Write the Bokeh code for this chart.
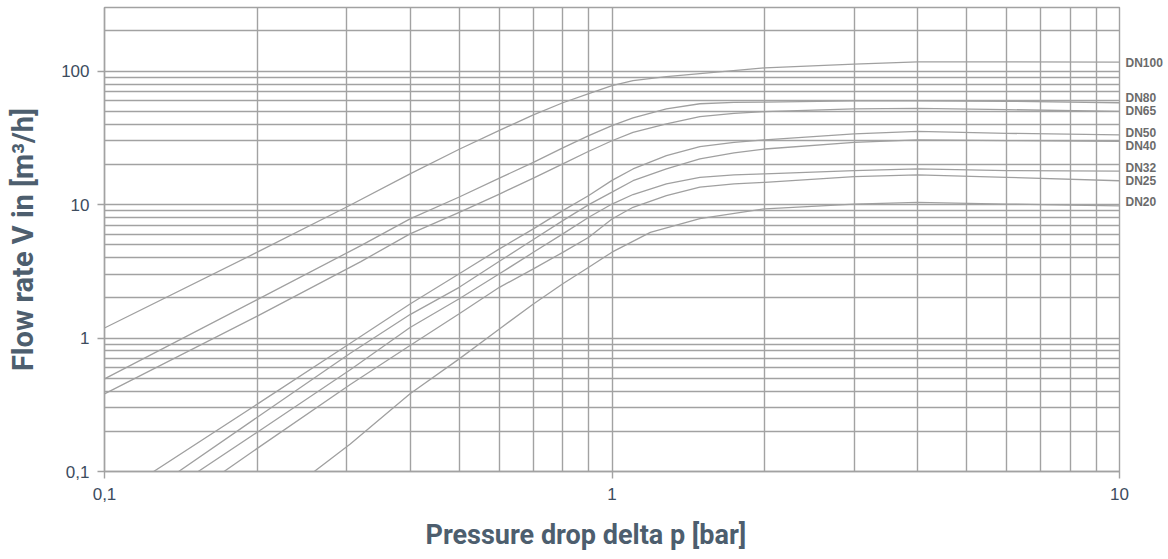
from bokeh.plotting import figure
from bokeh.models import Range1d, FixedTicker, CustomJSTickFormatter, LogAxis, Title
from bokeh.embed import file_html
from bokeh.resources import INLINE

# ---- data (pressure drop [bar] -> flow rate [m3/h]) ----
names = ["DN100", "DN80", "DN65", "DN50", "DN40", "DN32", "DN25", "DN20"]

dp_dn100 = [0.1, 0.2, 0.3, 0.4, 0.5, 0.6, 0.7, 0.8, 0.9, 1.0, 1.1, 1.28, 1.49, 2, 3, 4, 6, 10]
q_dn100 = [1.19, 4.4, 9.6, 17.0, 26.0, 36.0, 47.0, 58.0, 68.0, 78.0, 85.0, 91.0, 96.0, 106.0, 113.0, 117.5, 117.5, 117.0]

dp_dn80 = [0.1, 0.2, 0.32, 0.4, 0.5, 0.6, 0.7, 0.8, 0.9, 1.0, 1.1, 1.28, 1.49, 1.74, 2, 3, 4, 6, 10]
q_dn80 = [0.494, 1.94, 4.93, 7.82, 11.4, 15.8, 20.7, 26.6, 32.9, 39.1, 44.6, 52.1, 57.0, 58.3, 58.7, 59.8, 60.0, 59.5, 58.0]

dp_dn65 = [0.1, 0.2, 0.32, 0.4, 0.5, 0.6, 0.7, 0.8, 0.9, 1.0, 1.1, 1.28, 1.49, 1.74, 2, 3, 4, 6, 10]
q_dn65 = [0.382, 1.46, 3.74, 6.04, 8.75, 12.0, 15.8, 20.2, 25.1, 30.1, 34.8, 40.2, 45.6, 48.3, 49.8, 52.1, 52.6, 51.5, 50.0]

dp_dn50 = [0.125, 0.2, 0.305, 0.4, 0.5, 0.6, 0.7, 0.8, 0.9, 1.0, 1.1, 1.28, 1.49, 1.74, 2, 3, 4, 6, 10]
q_dn50 = [0.1, 0.32, 0.914, 1.8, 3.03, 4.66, 6.58, 9.02, 11.7, 15.2, 18.5, 23.3, 27.2, 29.3, 30.6, 33.9, 35.4, 34.2, 33.3]

dp_dn40 = [0.14, 0.2, 0.305, 0.4, 0.5, 0.6, 0.7, 0.8, 0.9, 1.0, 1.1, 1.28, 1.49, 1.74, 2, 3, 4, 6, 10]
q_dn40 = [0.1, 0.255, 0.77, 1.5, 2.40, 3.76, 5.47, 7.59, 10.0, 12.4, 15.1, 18.5, 22.0, 24.4, 26.1, 29.3, 30.6, 30.2, 29.8]

dp_dn32 = [0.153, 0.2, 0.305, 0.4, 0.5, 0.6, 0.7, 0.8, 0.9, 1.0, 1.1, 1.28, 1.49, 1.74, 2, 3, 4, 6, 10]
q_dn32 = [0.1, 0.197, 0.578, 1.2, 1.97, 3.03, 4.39, 6.04, 8.04, 10.1, 11.9, 14.3, 16.0, 16.7, 17.0, 18.0, 18.5, 18.0, 17.8]

dp_dn25 = [0.172, 0.2, 0.305, 0.4, 0.5, 0.6, 0.7, 0.8, 0.9, 1.0, 1.1, 1.28, 1.49, 1.74, 2, 3, 4, 6, 10]
q_dn25 = [0.1, 0.149, 0.449, 0.879, 1.52, 2.40, 3.30, 4.39, 5.69, 7.8, 9.55, 11.7, 13.5, 14.3, 14.7, 16.2, 16.7, 16.0, 15.1]

dp_dn20 = [0.259, 0.305, 0.4, 0.5, 0.6, 0.7, 0.8, 0.9, 1.0, 1.19, 1.49, 2, 3, 4, 6, 8, 10]
q_dn20 = [0.1, 0.161, 0.382, 0.698, 1.17, 1.80, 2.55, 3.39, 4.4, 6.2, 7.85, 9.3, 10.1, 10.4, 10.1, 9.9, 9.8]

label_q = [116.0, 63.0, 50.6, 34.6, 27.7, 18.9, 15.1, 10.4]

x_major = [0.1, 1, 10]
y_major = [0.1, 1, 10, 100]

series = [
    (dp_dn100, q_dn100), (dp_dn80, q_dn80), (dp_dn65, q_dn65), (dp_dn50, q_dn50),
    (dp_dn40, q_dn40), (dp_dn32, q_dn32), (dp_dn25, q_dn25), (dp_dn20, q_dn20),
]

GRID = "#a2a2a2"
CURVE = "#a0a0a0"
TICK_TXT = "#3d4c5e"
TITLE_TXT = "#4d5e6e"

p = figure(
    x_axis_type="log", y_axis_type="log",
    x_range=Range1d(0.1, 10), y_range=Range1d(0.1, 300),
    frame_width=1015, frame_height=464,
    min_border_left=104, min_border_right=48, min_border_top=7, min_border_bottom=80,
    output_backend="svg", toolbar_location=None,
)
p.background_fill_color = "white"
p.border_fill_color = "white"
p.outline_line_color = GRID
p.outline_line_width = 1.4

x_minor = [m * 10.0 ** e for e in (-1, 0) for m in range(2, 10)]
y_minor = [m * 10.0 ** e for e in (-1, 0, 1) for m in range(2, 10)] + [200, 300]
p.xaxis.ticker = FixedTicker(ticks=x_major, minor_ticks=x_minor)
p.yaxis.ticker = FixedTicker(ticks=y_major, minor_ticks=y_minor)

fmt = CustomJSTickFormatter(code="return tick < 1 ? String(tick).replace('.', ',') : String(tick);")
p.xaxis.formatter = fmt
p.yaxis.formatter = fmt

for g in (p.xgrid, p.ygrid):
    g.grid_line_color = GRID
    g.grid_line_width = 1.4
    g.minor_grid_line_color = GRID
    g.minor_grid_line_width = 1.4

p.axis.axis_line_color = GRID
p.axis.axis_line_width = 1.4
p.axis.major_tick_line_color = GRID
p.axis.major_tick_line_width = 1.4
p.axis.major_tick_out = 7
p.axis.major_tick_in = 0
p.axis.minor_tick_line_color = None
p.axis.major_label_text_font = "Liberation Sans"
p.axis.major_label_text_font_size = "17px"
p.axis.major_label_text_color = TICK_TXT
p.yaxis.major_label_standoff = 8
p.xaxis.major_label_standoff = 9

p.yaxis.axis_label = "Flow rate V in [m³/h]"
p.yaxis.axis_label_text_font = "Roboto"
p.yaxis.axis_label_text_font_style = "bold"
p.yaxis.axis_label_text_font_size = "29px"
p.yaxis.axis_label_text_color = TITLE_TXT
p.yaxis.axis_label_standoff = 18

for (xs, ys) in series:
    p.line(xs, ys, line_color=CURVE, line_width=1.3)

# series names shown at the right edge via a label-only axis
name_axis = LogAxis(
    ticker=FixedTicker(ticks=label_q, minor_ticks=[]),
    formatter=CustomJSTickFormatter(
        args=dict(vals=label_q, names=names),
        code="const i = vals.indexOf(tick); return i >= 0 ? names[i] : '';",
    ),
    axis_line_color=None, major_tick_line_color=None, minor_tick_line_color=None,
    major_tick_out=0, major_tick_in=0,
    major_label_standoff=6,
    major_label_text_font="Liberation Sans", major_label_text_font_style="bold",
    major_label_text_font_size="12px", major_label_text_color="#6b6b6b",
)
p.add_layout(name_axis, "right")

xt = Title(
    text="Pressure drop delta p [bar]", align="left", offset=321,
    text_font="Roboto", text_font_style="bold", text_font_size="27px",
    text_color=TITLE_TXT, standoff=28,
)
p.add_layout(xt, "below")

open("out.html", "w").write(file_html(p, INLINE))
